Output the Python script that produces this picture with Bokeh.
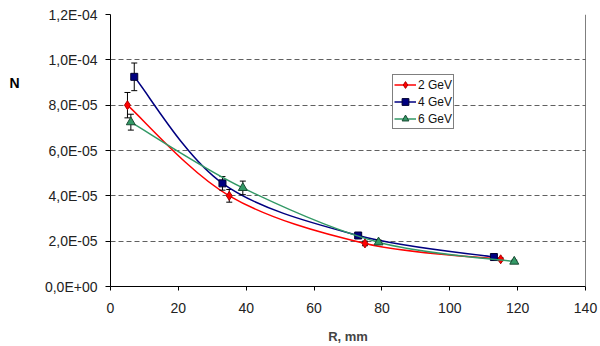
from bokeh.plotting import figure
from bokeh.models import Range1d, FixedTicker, Span, Legend, LegendItem, LinearAxis
from bokeh.embed import file_html
from bokeh.resources import INLINE

# ---- data ----
series_names = ["2 GeV", "4 GeV", "6 GeV"]
r_2gev = [5, 35, 75, 115]
n_2gev = [8.0e-5, 4.0e-5, 1.9e-5, 1.2e-5]
err_2gev = [5.6e-6, 2.8e-6, 1.0e-6, 0.6e-6]

r_4gev = [7, 33, 73, 113]
n_4gev = [9.25e-5, 4.55e-5, 2.25e-5, 1.3e-5]
err_4gev = [6.1e-6, 3.0e-6, 1.0e-6, 0.6e-6]

r_6gev = [6, 39, 79, 119]
n_6gev = [7.25e-5, 4.35e-5, 1.95e-5, 1.1e-5]
err_6gev = [3.5e-6, 3.0e-6, 1.0e-6, 0.6e-6]

x_ticks = [0, 20, 40, 60, 80, 100, 120, 140]
y_ticks = [0.0, 2e-05, 4e-05, 6e-05, 8e-05, 1e-04, 1.2e-04]
y_tick_labels = ["0,0E+00", "2,0E-05", "4,0E-05", "6,0E-05", "8,0E-05", "1,0E-04", "1,2E-04"]
y_title = "N"
y_title_at = 8.97e-5
x_title = "R, mm"

FONT = "Liberation Sans"

p = figure(width=600, height=346, output_backend="svg", toolbar_location=None,
           x_range=Range1d(0, 140), y_range=Range1d(0, 1.2e-4),
           min_border_left=110, min_border_right=15, min_border_top=14, min_border_bottom=59)
p.outline_line_color = None
p.background_fill_color = "white"
p.border_fill_color = "white"

# axes
p.xaxis.ticker = FixedTicker(ticks=x_ticks)
p.yaxis.ticker = FixedTicker(ticks=y_ticks)
p.yaxis.major_label_overrides = dict(zip(y_ticks, y_tick_labels))
p.xaxis.minor_tick_line_color = None
p.yaxis.minor_tick_line_color = None
for ax in (p.xaxis, p.yaxis):
    ax.axis_line_color = "black"
    ax.major_tick_line_color = "black"
    ax.major_tick_in = 0
    ax.major_label_text_font = FONT
    ax.major_label_text_font_size = "14px"
    ax.major_label_text_color = "#222222"
p.xaxis.major_tick_out = 4
p.xaxis.major_label_standoff = 12
p.yaxis.major_tick_out = 5
p.yaxis.major_label_standoff = 8
p.xaxis.axis_label = x_title
p.xaxis.axis_label_text_font = FONT
p.xaxis.axis_label_text_font_style = "bold"
p.xaxis.axis_label_text_font_size = "13px"
p.xaxis.axis_label_standoff = 13

# horizontal "N" title placed high on the left, as in the reference
n_axis = LinearAxis(ticker=FixedTicker(ticks=[y_title_at]),
                    major_label_overrides={y_title_at: y_title})
n_axis.axis_line_color = None
n_axis.major_tick_line_color = None
n_axis.minor_tick_line_color = None
n_axis.major_label_text_font = FONT
n_axis.major_label_text_font_style = "bold"
n_axis.major_label_text_font_size = "14px"
n_axis.major_label_text_color = "black"
n_axis.major_label_standoff = 16
p.add_layout(n_axis, "left")

p.xgrid.grid_line_color = None
p.ygrid.grid_line_color = "#606060"
p.ygrid.grid_line_dash = "5 3"
p.ygrid.grid_line_width = 1

p.add_layout(Span(location=140, dimension="height", line_color="black", line_width=1))


def smooth_segments(xs, ys):
    """Bezier control points (Catmull-Rom style) for a smoothed line through the points."""
    n = len(xs)
    x0s, y0s, x1s, y1s, c0x, c0y, c1x, c1y = ([] for _ in range(8))
    for i in range(n - 1):
        xa, ya = xs[max(i - 1, 0)], ys[max(i - 1, 0)]
        xb, yb = xs[i], ys[i]
        xc, yc = xs[i + 1], ys[i + 1]
        xd, yd = xs[min(i + 2, n - 1)], ys[min(i + 2, n - 1)]
        x0s.append(xb); y0s.append(yb); x1s.append(xc); y1s.append(yc)
        c0x.append(xb + (xc - xa) / 6); c0y.append(yb + (yc - ya) / 6)
        c1x.append(xc - (xd - xb) / 6); c1y.append(yc - (yd - yb) / 6)
    return dict(x0=x0s, y0=y0s, x1=x1s, y1=y1s, cx0=c0x, cy0=c0y, cx1=c1x, cy1=c1y)


series = [
    (r_2gev, n_2gev, err_2gev, "#FF0000", "diamond", 9, "#B00000"),
    (r_4gev, n_4gev, err_4gev, "#000080", "square", 7, "#000030"),
    (r_6gev, n_6gev, err_6gev, "#339966", "triangle", 9, "#1A4A33"),
]

legend_items = []
for (xs, ys, es, col, mk, sz, edge), name in zip(series, series_names):
    seg = smooth_segments(xs, ys)
    p.bezier(x0="x0", y0="y0", x1="x1", y1="y1", cx0="cx0", cy0="cy0", cx1="cx1", cy1="cy1",
             source=seg, line_color=col, line_width=1.5)
    lo = [y - e for y, e in zip(ys, es)]
    hi = [y + e for y, e in zip(ys, es)]
    p.segment(x0=xs, y0=lo, x1=xs, y1=hi, line_color="black", line_width=1)
    p.scatter(x=xs + xs, y=lo + hi, marker="dash", size=6, line_color="black", line_width=1)
    # line proxy for the legend (a single point draws nothing in the plot)
    ghost = p.line(x=[xs[0]], y=[ys[0]], line_color=col, line_width=1.5)
    sr = p.scatter(x=xs, y=ys, marker=mk, size=sz, fill_color=col, line_color=edge, line_width=1)
    legend_items.append(LegendItem(label=name, renderers=[ghost, sr]))

legend = Legend(items=legend_items, location=(282, 157))
legend.label_text_font = FONT
legend.label_text_font_size = "12px"
legend.label_text_color = "#111111"
legend.border_line_color = "black"
legend.border_line_width = 1
legend.background_fill_color = "white"
legend.background_fill_alpha = 1
legend.glyph_width = 22
legend.glyph_height = 17
legend.label_height = 17
legend.label_standoff = 2
legend.spacing = 0
legend.padding = 1
legend.margin = 0
p.add_layout(legend, "center")

open("out.html", "w").write(file_html(p, INLINE))
